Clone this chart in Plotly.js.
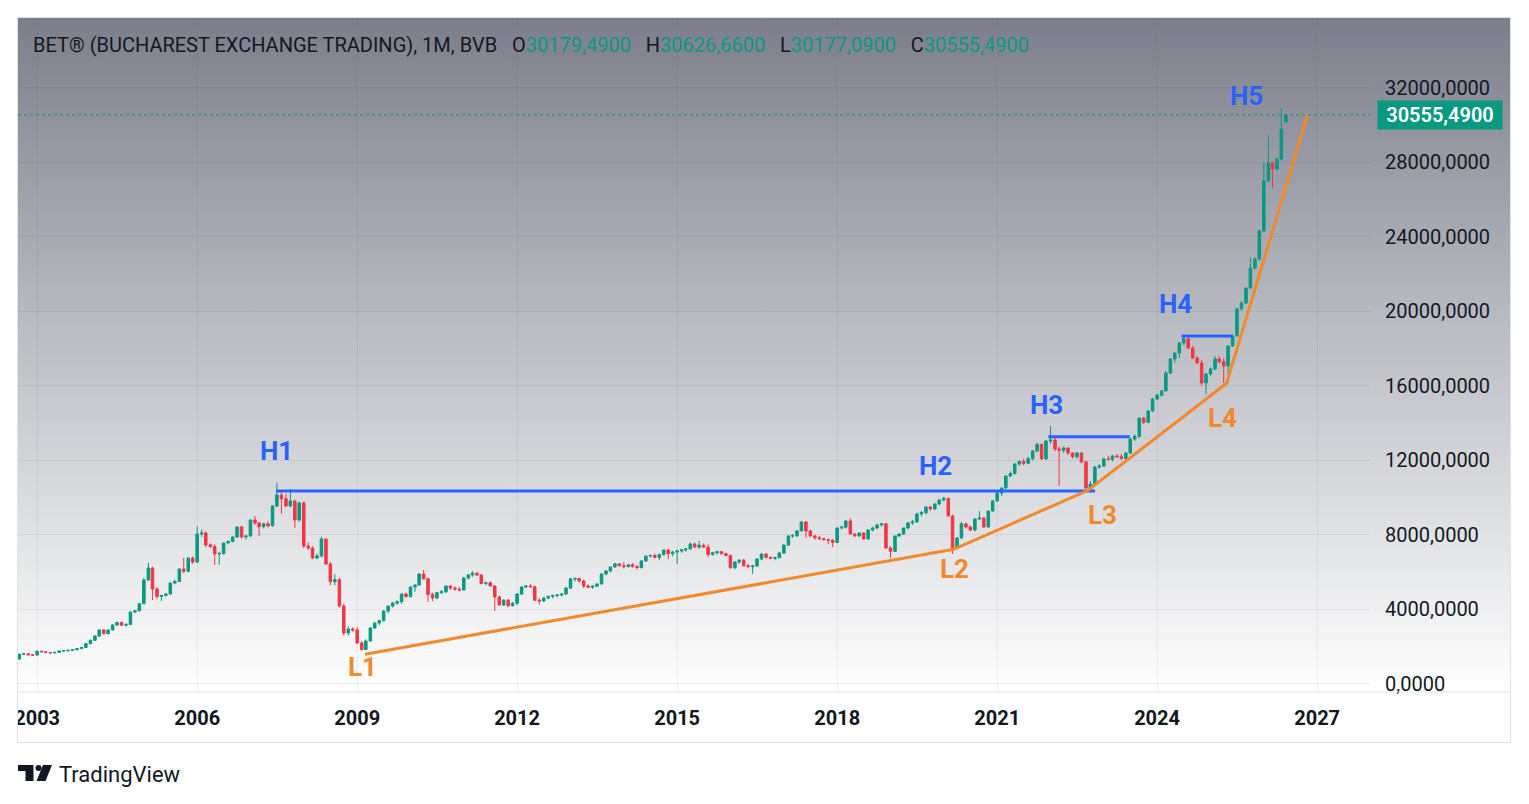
<!DOCTYPE html>
<html>
<head>
<meta charset="utf-8">
<script src="https://cdn.plot.ly/plotly-3.0.1.min.js"></script>
<style>
html,body{margin:0;padding:0;background:#ffffff;}
#wrap{position:relative;width:1529px;height:804px;overflow:hidden;}
#bg{position:absolute;left:18px;top:18px;width:1492px;height:674px;background:linear-gradient(to bottom,#7c7f8b 0%,#b9bbc2 45%,#ffffff 100%);}
#chart{position:absolute;left:0;top:0;width:1529px;height:804px;}
#mask{position:absolute;left:0;top:693px;width:17px;height:50px;background:#ffffff;}
#frame{position:absolute;left:17px;top:17px;width:1494px;height:726px;border:1px solid #e0e3eb;box-sizing:border-box;}
</style>
</head>
<body>
<div id="wrap"><div id="bg"></div><div id="chart"></div><div id="mask"></div><div id="frame"></div></div>
<script>
// ---- monthly OHLC, first bar = Sep 2002, last bar = Jun 2026 ----
const firstYear = 2002;
const firstMonth = 9;

const opens = [
  1340,1600,1620,1565,
  1550,1760,1730,1690,1670,1700,1770,1780,1810,1840,1900,1960,
  2165,2345,2577,2899,2700,2899,3168,3300,3150,3200,3866,3930,
  4311,5584,6228,5101,4700,4750,4830,5423,5500,6174,6050,6765,
  6550,8053,8107,7463,7380,6980,7000,7570,7650,7892,8429,7900,
  7946,8800,8650,8450,8600,8500,9557,10148,9950,9557,9826,8805,
  9718,7409,7300,6765,6872,7785,6443,5500,5600,4188,2738,2953,
  2901,2201,1850,2309,3007,3275,3400,3919,4188,4349,4420,4832,
  4690,5208,5315,5906,5650,4800,4617,4900,4950,5262,5150,5100,
  5050,5691,5850,5950,5850,5400,5430,5262,4671,4241,4500,4200,
  4336,4832,5208,5262,5220,4500,4456,4617,4700,4750,4780,4830,
  5154,5637,5660,5530,5260,5200,5250,5369,5906,6067,6282,6450,
  6350,6300,6400,6300,6250,6604,6872,6900,6800,6950,7194,7000,
  7083,7141,7200,7250,7517,7350,7450,7350,6950,7050,7100,7000,
  6900,6250,6550,6650,6350,6300,6335,6711,6980,6800,6750,6780,
  7033,7463,7946,7960,8215,8698,8215,7946,7850,7800,7750,7720,
  7600,8376,8420,8751,8054,7950,8107,7785,8268,8376,8536,8600,
  7302,7123,7946,8054,8376,8644,8700,9127,9200,9503,9400,9664,
  9879,9960,9020,7302,7840,8600,8429,8268,8859,8913,8429,9289,
  9826,10255,10523,11168,11300,11812,11950,11850,12100,12510,12868,12080,
  13047,13100,12617,12550,12671,12403,12200,12400,11919,10523,10738,11650,
  11700,12080,12064,12241,12200,12100,12403,13154,13300,14281,14050,14657,
  15301,15500,15731,16698,17449,17771,18308,18540,18040,17503,17235,16160,
  16644,16912,17449,17300,17073,18147,18684,20134,20456,21261,22335,22818,
  24321,27006,27973,27650,28187,30179.49
];
const highs = [
  1620,1650,1640,1600,
  1800,1790,1750,1720,1720,1790,1800,1830,1860,1920,1990,2190,
  2380,2600,2920,2950,2920,3200,3340,3350,3250,3900,3960,4360,
  5700,6513,6300,5200,4800,4900,5450,5600,6200,6780,6800,6850,
  8483,8300,8200,7550,7500,7100,7600,7700,7950,8450,8500,8000,
  8850,9020,8700,8650,8750,9600,10808,10400,10200,10470,9900,9800,
  9800,7600,7400,7000,7900,7800,6550,5900,5700,4300,3100,3050,
  3050,2300,2400,3050,3300,3450,3950,4200,4400,4500,4850,4900,
  5250,5350,5950,6121,5700,4900,4950,5050,5300,5300,5250,5200,
  5750,5900,6067,6000,5900,5500,5520,5300,4750,4550,4560,4400,
  4850,5250,5300,5350,5262,4600,4650,4750,4800,4820,4850,5200,
  5700,5720,5700,5600,5350,5300,5420,5950,6100,6300,6500,6500,
  6550,6420,6500,6400,6650,6900,6950,7000,7000,7200,7250,7150,
  7200,7250,7300,7600,7600,7678,7550,7500,7100,7150,7150,7050,
  6950,6600,6700,6711,6450,6400,6750,7000,7000,6850,6850,7100,
  7500,8000,8050,8250,8750,8750,8300,8000,7950,7850,7800,7780,
  8400,8500,8800,8913,8100,8150,8150,8300,8450,8600,8650,8650,
  7400,7946,8100,8400,8700,8800,9200,9300,9550,9550,9700,9900,
  10050,10000,9100,7900,8700,8650,8500,8900,9289,8950,9300,9850,
  10300,10550,11200,11400,11850,12000,12100,12200,12550,12950,12900,13100,
  13852,13200,12750,12750,12700,12450,12450,12450,12000,10900,11700,11800,
  12150,12250,12300,12350,12350,12450,13200,13400,14300,14350,14700,15350,
  15600,15800,16800,17500,17800,18350,18700,18600,18150,17600,17400,16700,
  17000,17600,17600,17500,18200,18750,20200,20550,21300,22900,22900,24400,
  27973,29476,28050,28250,30925,30626.66
];
const lows = [
  1320,1580,1550,1530,
  1540,1700,1660,1640,1650,1690,1740,1760,1790,1820,1880,1950,
  2140,2320,2520,2650,2680,2880,3140,3120,3080,3180,3800,3900,
  4290,5550,4500,4550,4456,4700,4800,5350,5480,5950,6000,6450,
  6500,7900,7350,7300,6389,6400,6950,7500,7600,7840,7800,7750,
  7900,8550,7946,8350,8400,8450,9500,9144,9500,9500,8376,8700,
  7300,7200,6700,6700,6800,6400,5300,5300,4100,2600,2600,2800,
  2150,1780,1820,2290,2950,3150,3350,3800,4100,4250,4300,4650,
  4650,4950,5300,5600,4400,4450,4550,4850,4900,5050,5000,4980,
  5030,5600,5750,5800,5350,5300,5250,3919,4200,4200,4130,4150,
  4241,4779,5150,5180,4456,4250,4400,4550,4600,4650,4700,4780,
  5100,5500,5450,5150,5150,5100,5200,5350,5850,6000,6250,6300,
  6200,6250,6250,6150,6200,6550,6800,6750,6650,6900,6700,6850,
  6443,7050,7100,7200,7300,7250,7300,6800,6900,6950,6950,6850,
  6174,6150,6450,6300,6250,5906,6300,6650,6750,6700,6650,6750,
  7000,7400,7850,7900,8200,7850,7900,7750,7750,7700,7500,7356,
  7600,8300,8350,8000,7900,7900,7750,7750,8200,8300,8450,7250,
  6765,7100,7900,8000,8300,8550,8650,9000,9100,9300,9350,9600,
  9800,9020,6980,7250,7800,8350,8200,8200,8800,8400,8400,9250,
  9800,10100,10500,11100,11250,11700,11750,11800,12000,12450,12050,12050,
  12900,12500,10631,12400,12300,12100,12100,11850,10450,10450,10700,11550,
  11650,12000,11950,12150,12050,12050,12350,13050,13200,13950,14000,14600,
  15250,15450,15700,16650,17235,17500,18200,18000,17450,17200,16000,15570,
  16550,16850,17200,16160,16160,18100,18650,20050,20400,21200,22250,22750,
  24250,26950,26630,27600,28100,30177.09
];
const closes = [
  1600,1620,1565,1550,
  1760,1730,1690,1670,1700,1770,1780,1810,1840,1900,1960,2165,
  2345,2577,2899,2700,2899,3168,3300,3150,3200,3866,3930,4311,
  5584,6228,5101,4700,4750,4830,5423,5500,6174,6050,6765,6550,
  8053,8107,7463,7380,6980,7000,7570,7650,7892,8429,7900,7946,
  8800,8650,8450,8600,8500,9557,10148,9950,9557,9826,8805,9718,
  7409,7300,6765,6872,7785,6443,5500,5600,4188,2738,2953,2901,
  2201,1850,2309,3007,3275,3400,3919,4188,4349,4420,4832,4690,
  5208,5315,5906,5650,4800,4617,4900,4950,5262,5150,5100,5050,
  5691,5850,5950,5850,5400,5430,5262,4671,4241,4500,4200,4336,
  4832,5208,5262,5220,4500,4456,4617,4700,4750,4780,4830,5154,
  5637,5660,5530,5260,5200,5250,5369,5906,6067,6282,6450,6350,
  6300,6400,6300,6250,6604,6872,6900,6800,6950,7194,7000,7083,
  7141,7200,7250,7517,7350,7450,7350,6950,7050,7100,7000,6900,
  6250,6550,6650,6350,6300,6335,6711,6980,6800,6750,6780,7033,
  7463,7946,7960,8215,8698,8215,7946,7850,7800,7750,7720,7600,
  8376,8420,8751,8054,7950,8107,7785,8268,8376,8536,8600,7302,
  7123,7946,8054,8376,8644,8700,9127,9200,9503,9400,9664,9879,
  9960,9020,7302,7840,8600,8429,8268,8859,8913,8429,9289,9826,
  10255,10523,11168,11300,11812,11950,11850,12100,12510,12868,12080,13047,
  13100,12617,12550,12671,12403,12200,12400,11919,10523,10738,11650,11700,
  12080,12064,12241,12200,12100,12403,13154,13300,14281,14050,14657,15301,
  15500,15731,16698,17449,17771,18308,18540,18040,17503,17235,16160,16644,
  16912,17449,17300,17073,18147,18684,20134,20456,21261,22335,22818,24321,
  27006,27973,27650,28187,29798,30555.49
];

// x-axis ticks
const yearTicks = ['2003-01-01','2006-01-01','2009-01-01','2012-01-01','2015-01-01','2018-01-01','2021-01-01','2024-01-01','2027-01-01'];
const priceTicks = [0,4000,8000,12000,16000,20000,24000,28000,32000];

// drawn annotations: resistance levels (blue) and support trend (orange)
const h1Level = 10362, h1Start = '2007-06-25', h1End = '2022-11-02';
const h3Level = 13278, h3Start = '2021-12-17', h3End = '2023-06-28';
const h4Level = 18684, h4Start = '2024-06-16', h4End = '2025-06-01';
const supportDates = ['2009-02-24','2020-03-08','2022-09-16','2025-04-21','2026-10-27'];
const supportValues = [1600, 7230, 10400, 16145, 30550];

const pivotNames = ['H1','L1','H2','L2','H3','L3','H4','L4','H5'];
const pivotDates = ['2007-06-27','2009-02-08','2019-11-02','2020-03-17','2021-12-02','2022-12-20','2024-05-05','2025-03-21','2025-09-02'];
const pivotValues = [12510, 913, 11704, 6174, 14980, 9074, 20402, 14281, 31570];

const lastPrice = 30555.49;
const headerName = 'BET® (BUCHAREST EXCHANGE TRADING), 1M, BVB';
const headerValues = ['30179,4900','30626,6600','30177,0900','30555,4900'];
const headerKeys = ['O','H','L','C'];

// ---- build ----
const dates = closes.map((_, i) => {
  const m = firstMonth - 1 + i;
  const y = firstYear + Math.floor(m / 12);
  return y + '-' + String((m % 12) + 1).padStart(2, '0') + '-01';
});

const UP = '#089981', DOWN = '#f23645', BLUE = '#2962ff', ORANGE = '#f2892c', TXT = '#131722';
const F = 'Roboto, "DejaVu Sans", sans-serif';

// plot area in pixels: x 18..1370, y 18..692
const L = 18, R = 1370, T = 18, B = 692;
const px = p => (p - L) / (R - L);
const py = p => (B - p) / (B - T);

const traces = [
  {
    type: 'candlestick', x: dates, open: opens, high: highs, low: lows, close: closes,
    increasing: {line: {color: UP, width: 1}, fillcolor: UP},
    decreasing: {line: {color: DOWN, width: 1}, fillcolor: DOWN},
    whiskerwidth: 0, hoverinfo: 'skip', showlegend: false
  },
  {type: 'scatter', mode: 'lines', x: [h1Start, h1End], y: [h1Level, h1Level], line: {color: BLUE, width: 3}, hoverinfo: 'skip', showlegend: false},
  {type: 'scatter', mode: 'lines', x: [h3Start, h3End], y: [h3Level, h3Level], line: {color: BLUE, width: 3}, hoverinfo: 'skip', showlegend: false},
  {type: 'scatter', mode: 'lines', x: [h4Start, h4End], y: [h4Level, h4Level], line: {color: BLUE, width: 3}, hoverinfo: 'skip', showlegend: false},
  {type: 'scatter', mode: 'lines', x: supportDates, y: supportValues, line: {color: ORANGE, width: 3}, hoverinfo: 'skip', showlegend: false}
];

const annotations = pivotNames.map((n, i) => ({
  x: pivotDates[i], y: pivotValues[i], xref: 'x', yref: 'y', showarrow: false,
  text: '<b>' + n + '</b>', font: {family: F, size: 26, color: n[0] === 'H' ? BLUE : ORANGE},
  xanchor: 'center', yanchor: 'middle'
}));

let head = headerName;
headerKeys.forEach((k, i) => {
  head += '&nbsp;&nbsp;&nbsp;' + k + '<span style="color:' + UP + '">' + headerValues[i] + '</span>';
});
annotations.push({
  xref: 'paper', yref: 'paper', x: px(31), y: py(45), xanchor: 'left', yanchor: 'middle',
  showarrow: false, text: head, font: {family: F, size: 20, color: TXT}
});
annotations.push({
  xref: 'paper', yref: 'y', x: px(1377), y: lastPrice, xanchor: 'left', yanchor: 'middle',
  showarrow: false, text: headerValues[3], bgcolor: UP, width: 122, height: 26, borderpad: 1,
  font: {family: F, size: 20, color: '#ffffff', weight: 600}
});
annotations.push({
  xref: 'paper', yref: 'paper', x: px(57), y: py(774), xanchor: 'left', yanchor: 'middle',
  showarrow: false, text: 'TradingView', font: {family: F, size: 22, color: TXT}
});

const P = (x, y) => px(x) + ',' + py(y);
const shapes = [
  {type: 'line', xref: 'paper', yref: 'y', x0: 0, x1: 1, y0: lastPrice, y1: lastPrice, line: {color: UP, width: 1, dash: 'dot'}},
  {type: 'line', xref: 'paper', yref: 'paper', x0: 0, x1: px(1510), y0: 0, y1: 0, line: {color: '#e0e3eb', width: 1}},
  // TradingView logo mark
  {type: 'path', xref: 'paper', yref: 'paper', fillcolor: TXT, line: {width: 0},
   path: 'M' + P(18, 765) + ' L' + P(33.5, 765) + ' L' + P(33.5, 781) + ' L' + P(25.5, 781) + ' L' + P(25.5, 771) + ' L' + P(18, 771) + ' Z'},
  {type: 'circle', xref: 'paper', yref: 'paper', fillcolor: TXT, line: {width: 0},
   x0: px(35.5), x1: px(41.5), y0: py(771), y1: py(765)},
  {type: 'path', xref: 'paper', yref: 'paper', fillcolor: TXT, line: {width: 0},
   path: 'M' + P(43, 765) + ' L' + P(52, 765) + ' L' + P(45.5, 781) + ' L' + P(36.5, 781) + ' Z'}
];

const layout = {
  width: 1529, height: 804,
  margin: {l: L, r: 1529 - R, t: T, b: 804 - B, pad: 0},
  paper_bgcolor: 'rgba(0,0,0,0)', plot_bgcolor: 'rgba(0,0,0,0)',
  showlegend: false, hovermode: false, separators: ', ',
  boxgap: 0.12,
  font: {family: F, color: TXT},
  xaxis: {
    type: 'date', range: ['2002-08-23', '2027-12-29'], rangeslider: {visible: false},
    tickvals: yearTicks, tickformat: '%Y', showgrid: true, gridcolor: 'rgba(42,46,57,0.08)', gridwidth: 1,
    zeroline: false, showline: false, ticks: '', ticklabelstandoff: 12,
    tickfont: {family: F, size: 20, color: TXT, weight: 'bold'}
  },
  yaxis: {
    side: 'right', range: [-430, 35758], tickvals: priceTicks, tickformat: '.4f',
    showgrid: true, gridcolor: 'rgba(42,46,57,0.08)', gridwidth: 1,
    zeroline: false, showline: false, ticks: '', ticklabelstandoff: 14,
    tickfont: {family: F, size: 20, color: TXT}
  },
  annotations: annotations,
  shapes: shapes
};

Plotly.newPlot('chart', traces, layout, {staticPlot: true, displayModeBar: false});
</script>
</body>
</html>
